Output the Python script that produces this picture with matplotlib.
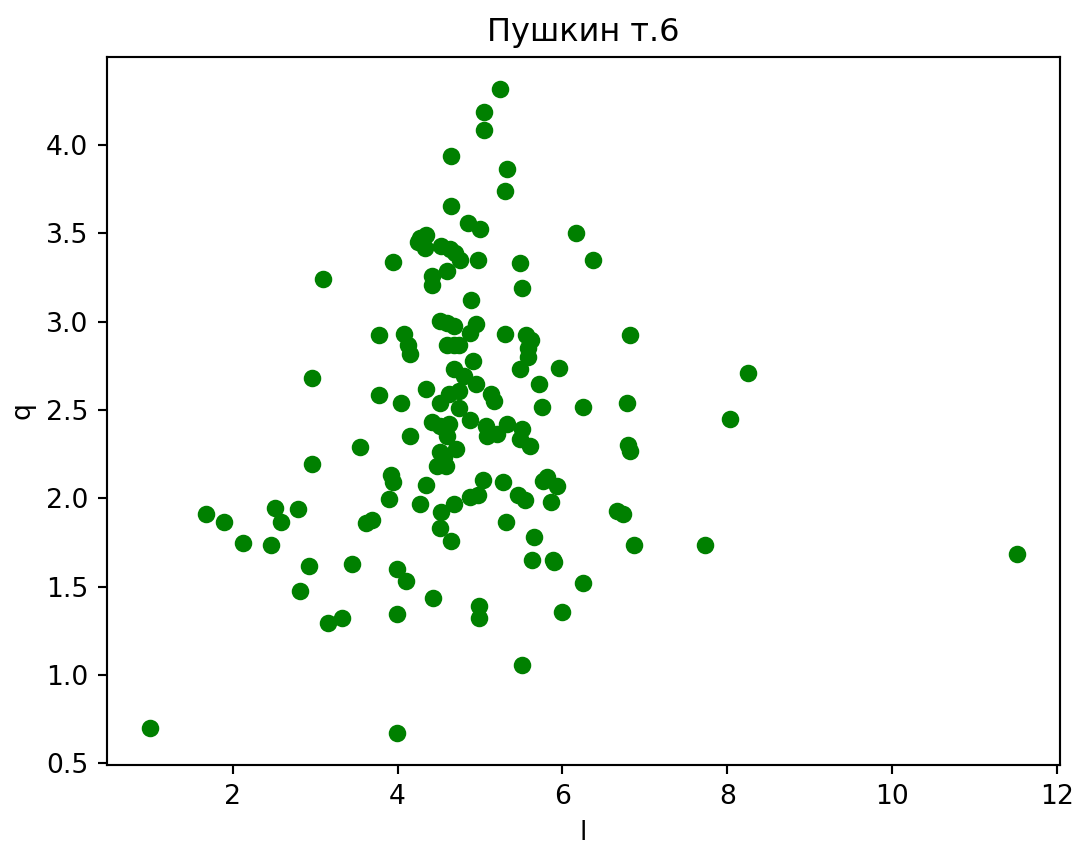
import matplotlib
matplotlib.use('Agg')
import matplotlib.pyplot as plt

# l (x) and q (y) values
l = [1.0, 3.99, 11.51, 8.25, 8.03, 7.73, 6.87, 6.82, 6.78, 6.79, 6.82, 6.66, 6.73,
     6.375, 6.16, 6.25, 6.25, 6.0, 5.96, 5.93, 5.81, 5.76, 5.86, 5.88, 5.90,
     5.72, 5.75, 5.65, 5.63, 5.56, 5.62, 5.58, 5.58, 5.60, 5.48, 5.51, 5.48,
     5.51, 5.49, 5.46, 5.54, 5.51,
     5.24, 5.05, 5.05, 4.65, 5.33, 5.30, 4.65, 4.855, 4.997,
     4.275, 4.35, 4.25, 4.33, 4.53, 4.64, 4.70, 4.76, 4.975, 3.94, 4.60,
     4.42, 4.42, 3.10, 4.89, 4.51, 4.60, 4.68, 4.95, 4.88, 3.78,
     4.08, 4.12, 4.15, 5.30, 4.60, 4.68, 4.74, 4.92, 4.69, 4.80, 4.95,
     2.965, 4.34, 4.62, 4.74, 4.52, 3.78, 5.13, 5.17, 4.04, 4.74,
     4.42, 4.52, 4.62, 4.60, 4.88, 5.07, 5.09, 5.21, 5.33, 4.15, 3.545, 4.71,
     4.51, 4.56, 4.48, 4.59, 2.965, 3.92, 3.95, 5.03, 5.28, 4.34, 3.90,
     4.88, 4.98, 4.275, 4.69, 2.79, 4.53, 3.62, 3.69, 5.32, 4.51, 4.65,
     1.675, 1.89, 2.12, 2.51, 2.58, 2.47, 2.92, 3.45, 3.99, 4.10, 2.82,
     4.43, 4.99, 4.99, 3.15, 3.33, 3.99]
q = [0.697, 0.672, 1.683, 2.71, 2.45, 1.738, 1.738, 2.927, 2.538, 2.30, 2.27, 1.93, 1.91,
     3.35, 3.504, 2.517, 1.52, 1.358, 2.74, 2.07, 2.12, 2.10, 1.98, 1.653, 1.64,
     2.645, 2.517, 1.78, 1.649, 2.927, 2.899, 2.852, 2.80, 2.298, 3.33, 3.19, 2.733,
     2.392, 2.335, 2.016, 1.993, 1.054,
     4.317, 4.186, 4.088, 3.936, 3.863, 3.74, 3.656, 3.56, 3.528,
     3.477, 3.494, 3.453, 3.415, 3.43, 3.41, 3.387, 3.35, 3.35, 3.34, 3.288,
     3.26, 3.21, 3.243, 3.125, 3.006, 2.993, 2.974, 2.987, 2.936, 2.927,
     2.933, 2.871, 2.818, 2.93, 2.87, 2.87, 2.87, 2.777, 2.733, 2.69, 2.645,
     2.679, 2.617, 2.589, 2.608, 2.542, 2.583, 2.589, 2.551, 2.538, 2.51,
     2.435, 2.41, 2.423, 2.354, 2.442, 2.41, 2.354, 2.364, 2.42, 2.354, 2.288, 2.279,
     2.26, 2.232, 2.185, 2.181, 2.194, 2.134, 2.09, 2.106, 2.095, 2.076, 1.997,
     2.006, 2.02, 1.965, 1.965, 1.94, 1.92, 1.86, 1.879, 1.865, 1.831, 1.76,
     1.909, 1.865, 1.747, 1.944, 1.865, 1.738, 1.617, 1.627, 1.597, 1.531, 1.476,
     1.433, 1.39, 1.324, 1.293, 1.324, 1.345]

fig = plt.figure(figsize=(1078/192, 845/192), dpi=192)
ax = fig.add_axes([107/1078, 80/845, 953/1078, 708/845])

ax.scatter(l, q, color='green', s=31)
ax.set_title('Пушкин т.6')
ax.set_xlabel('l')
ax.set_ylabel('q')

fig.savefig('out.png', dpi=192)
